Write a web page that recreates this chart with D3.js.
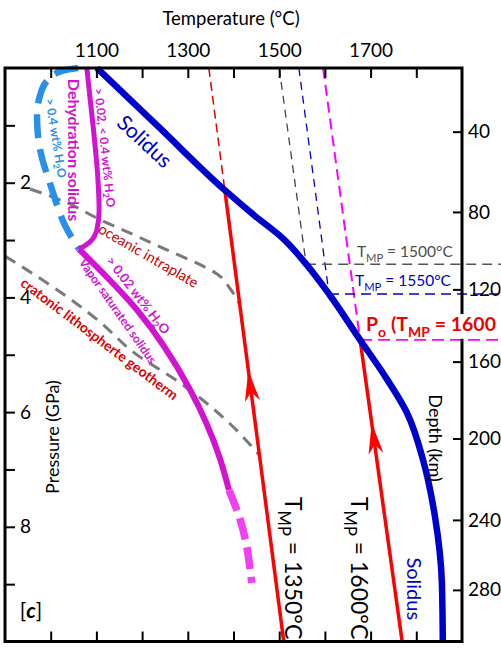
<!DOCTYPE html>
<html lang="en">
<head>
<meta charset="UTF-8">
<title>Solidus and mantle adiabats</title>
<script src="https://d3js.org/d3.v7.min.js"></script>
<style>
  body { margin: 0; background: #fff; }
  svg { display: block; font-family: Lato, "Open Sans", sans-serif; }
</style>
</head>
<body>
<svg id="chart" width="501" height="648"></svg>
<script>
// axes: temperature (°C) on top, pressure (GPa) left, depth (km) right
const tempTicks = [1000, 1100, 1200, 1300, 1400, 1500, 1600, 1700, 1800];
const tempLabels = [1100, 1300, 1500, 1700];
const pressTicks = [1, 2, 3, 4, 5, 6, 7, 8, 9];
const pressLabels = [2, 4, 6, 8];
const depthTicks = [40, 80, 120, 160, 200, 240, 280];
const depthTickPressure = [1.11, 2.51, 3.86, 5.12, 6.46, 7.88, 9.10];

// curves as [T, P] pairs
const solidus = [[1101, 0], [1239, 1.05], [1381, 2.13], [1447, 2.58], [1508, 2.97], [1559, 3.42],
  [1609, 3.94], [1677, 4.74], [1727, 5.32], [1780, 6.02], [1815, 6.84],
  [1841, 7.83], [1856, 8.98], [1858, 10]];
const dehydrationSolidus = [[1079, 0], [1093, 1.03], [1103, 1.9], [1106, 2.48], [1101, 2.82],
  [1086, 3.03], [1062, 3.16]];
const vaporSolidus = [[1062, 3.16], [1189, 4.22], [1305, 5.61], [1370, 6.8], [1390, 7.36]];
const vaporSolidusExtrap = [[1390, 7.36], [1414, 7.86], [1440, 8.98]];
const wetSolidus = [[1060, 0], [1025, 0.05], [994, 0.21], [977, 0.47], [970, 0.82], [972, 1.17],
  [981, 1.57], [998, 2.0], [1014, 2.39], [1031, 2.74], [1062, 3.16]];
const oceanicGeotherm = [[955, 2.11], [1036, 2.35], [1104, 2.63], [1174, 2.88], [1254, 3.17],
  [1327, 3.43], [1364, 3.59], [1392, 3.84], [1414, 4.13]];
const cratonicGeotherm = [[900, 3.28], [948, 3.52], [992, 3.75], [1036, 3.99], [1108, 4.43],
  [1180, 4.95], [1283, 5.49], [1377, 6.09], [1457, 6.75]];

// adiabats: sub-solidus part (dashed) and melting path (solid)
const adiabat1350 = [[1346, 0], [1381, 2.13]];
const adiabat1500 = [[1500, 0], [1559, 3.42]];
const adiabat1550 = [[1543, 0], [1609, 3.94]];
const adiabat1600 = [[1596, 0], [1677, 4.74]];
const melting1350 = [[1381, 2.13], [1510, 10]];
const melting1600 = [[1677, 4.74], [1769, 10]];
const arrowPressure = [5.27, 6.19];

const svg = d3.select("#chart");
const W = 501;
const x = d3.scaleLinear().domain([900, 1900]).range([5, 462]);
const y = d3.scaleLinear().domain([0, 10]).range([68, 641.5]);
const yDepth = d3.scaleLinear().domain(depthTicks).range(depthTickPressure.map(y));

const smooth = d3.line().x(d => x(d[0])).y(d => y(d[1])).curve(d3.curveMonotoneY);
const straight = d3.line().x(d => x(d[0])).y(d => y(d[1]));

function draw(data, gen, color, width, dash) {
  svg.append("path").attr("d", gen(data)).attr("fill", "none")
    .attr("stroke", color).attr("stroke-width", width)
    .attr("stroke-dasharray", dash || null);
}

// geotherms
draw(oceanicGeotherm, smooth, "#7a7a7a", 3, "12,8");
draw(cratonicGeotherm, smooth, "#7a7a7a", 3, "12,8");

// sub-solidus adiabats + onset lines
draw(adiabat1350, straight, "#e00000", 1.5, "9,5");
draw(adiabat1500, straight, "#444", 1.3, "8,6");
draw(adiabat1550, straight, "#0000cc", 1.3, "8,6");
draw(adiabat1600, straight, "#ff00ff", 2, "11,6");
function onset(a, color, width, dash) {
  const p = a[a.length - 1];
  svg.append("line").attr("x1", x(p[0])).attr("x2", W).attr("y1", y(p[1])).attr("y2", y(p[1]))
    .attr("stroke", color).attr("stroke-width", width).attr("stroke-dasharray", dash);
}
onset(adiabat1500, "#555", 1.5, "10,6");
onset(adiabat1550, "#0000cc", 1.5, "10,6");
onset(adiabat1600, "#ff00ff", 2, "12,6");

// hydrous solidi
draw(wetSolidus, smooth, "#2a8fea", 6.5, "24,11");
draw(dehydrationSolidus, smooth, "#d214d2", 5);
draw(vaporSolidus, smooth, "#d214d2", 6);
draw(vaporSolidusExtrap, smooth, "#f23ff2", 7.5, "22,8");

// melting paths with arrows
[melting1350, melting1600].forEach((m, i) => {
  draw(m, straight, "#ff0000", 3.5);
  const [a, b] = m;
  const P = arrowPressure[i];
  const T = a[0] + (P - a[1]) / (b[1] - a[1]) * (b[0] - a[0]);
  const tx = x(T), ty = y(P);
  let ux = x(a[0]) - x(b[0]), uy = y(a[1]) - y(b[1]);
  const len = Math.hypot(ux, uy); ux /= len; uy /= len;
  const nx = -uy, ny = ux, L = 31, Wd = 7.5, N = 9;
  const pts = [[tx, ty], [tx - L * ux + Wd * nx, ty - L * uy + Wd * ny],
    [tx - (L - N) * ux, ty - (L - N) * uy], [tx - L * ux - Wd * nx, ty - L * uy - Wd * ny]];
  svg.append("path").attr("d", "M" + pts.join("L") + "Z").attr("fill", "#ff0000");
});

draw(solidus, smooth, "#0000cc", 6.5);

// frame and axes
svg.append("rect").attr("x", x(900)).attr("y", y(0)).attr("width", x(1900) - x(900))
  .attr("height", y(10) - y(0)).attr("fill", "none").attr("stroke", "#000").attr("stroke-width", 3);

function styleAxis(g) {
  g.select(".domain").remove();
  g.attr("font-family", null).attr("font-size", 19);
  g.selectAll(".tick line").attr("stroke-width", 2);
}
svg.append("g").attr("transform", `translate(0,${y(0)})`)
  .call(d3.axisTop(x).tickValues(tempTicks).tickSize(-10).tickPadding(11)
    .tickFormat(d => tempLabels.includes(d) ? d : "")).call(styleAxis);
svg.append("g").attr("transform", `translate(0,${y(10)})`)
  .call(d3.axisTop(x).tickValues(tempTicks).tickSize(10).tickFormat("")).call(styleAxis);
svg.append("g").attr("transform", `translate(${x(900)},0)`)
  .call(d3.axisRight(y).tickValues(pressTicks).tickSize(10).tickPadding(5)
    .tickFormat(d => pressLabels.includes(d) ? d : "")).call(styleAxis);
svg.append("g").attr("transform", `translate(${x(1900)},0)`)
  .call(d3.axisRight(yDepth).tickValues(depthTicks).tickSize(-9).tickPadding(6)).call(styleAxis);

// text
function label(parts, px, py, o) {
  const g = svg.append("g").attr("transform", `translate(${px},${py}) rotate(${o.rotate || 0})`);
  const t = g.append("text").attr("text-anchor", o.anchor || "middle")
    .attr("font-size", o.size).attr("font-weight", o.bold ? "bold" : null)
    .attr("fill", o.color || "#000");
  if (o.central) t.attr("dominant-baseline", "central");
  const s = o.size * 0.3;
  let prevSub = false;
  parts.forEach(p => {
    const [str, sub] = Array.isArray(p) ? p : [p, false];
    t.append("tspan").text(str)
      .attr("font-size", sub ? o.size * 0.72 : null)
      .attr("dy", sub && !prevSub ? s : (!sub && prevSub ? -s : null));
    prevSub = sub;
  });
  return { g, t };
}
const pos = (T, P) => [x(T), y(P)];

label(["Temperature (°C)"], 231, 25, { size: 18.5 });
label(["Pressure (GPa)"], 52, 437, { size: 18, rotate: -90, central: true });
label(["Depth (km)"], 436, 438, { size: 18, rotate: 90, central: true });

label(["Solidus"], ...pos(1208, 1.26), { size: 21, rotate: 43, central: true, color: "#0000cc" });
label(["Solidus"], ...pos(1797, 9.08), { size: 20, rotate: 90, central: true, color: "#0000cc" });
label(["Dehydration solidus"], ...pos(1053, 1.43), { size: 16, bold: true, rotate: 90, central: true, color: "#d214d2" });
label(["> 0.02, < 0.4 wt% H", ["2", true], "O"], ...pos(1120, 1.39), { size: 12, bold: true, rotate: 84, central: true, color: "#d214d2" });
label(["> 0.4 wt% H", ["2", true], "O"], ...pos(1013, 1.22), { size: 12, bold: true, rotate: 81, central: true, color: "#2a8fea" });
label(["oceanic intraplate"], ...pos(1215, 3.26), { size: 14.5, rotate: 30, central: true, color: "#cc0000" });
label(["cratonic lithospherte geotherm"], ...pos(1108, 4.71), { size: 14, bold: true, rotate: 37, central: true, color: "#dd0000" });
label(["> 0.02 wt% H", ["2", true], "O"], ...pos(1192, 3.96), { size: 13, bold: true, rotate: 52, central: true, color: "#d214d2" });
label(["Vapor saturated solidus"], ...pos(1148, 4.23), { size: 12, bold: true, rotate: 55, central: true, color: "#d214d2" });

label(["T", ["MP", true], " = 1350°C"], ...pos(1513, 7.48), { size: 23, rotate: 90, anchor: "start" });
label(["T", ["MP", true], " = 1600°C"], ...pos(1657, 7.48), { size: 23, rotate: 90, anchor: "start" });
label(["T", ["MP", true], " = 1500°C"], ...pos(1670, 3.30), { size: 15.5, anchor: "start", color: "#4d4d4d" });
label(["T", ["MP", true], " = 1550°C"], ...pos(1666, 3.80), { size: 15.5, anchor: "start", color: "#0000cc" });
// the reference cuts this label at the window edge after "1600"
const po = label(["P", ["o", true], " (T", ["MP", true], " = 1600"], ...pos(1690, 4.586),
  { size: 19.5, bold: true, anchor: "start", color: "#ee0000" });
const bb = po.t.node().getBBox();
po.g.insert("rect", "text").attr("x", bb.x - 1).attr("y", bb.y + 2)
  .attr("width", bb.width + 2).attr("height", bb.height - 3).attr("fill", "#fff");

const c = svg.append("text").attr("x", 31).attr("y", 618).attr("text-anchor", "middle").attr("font-size", 21);
c.append("tspan").text("[");
c.append("tspan").text("c").attr("font-weight", "bold").attr("font-style", "italic");
c.append("tspan").text("]");
</script>
</body>
</html>
